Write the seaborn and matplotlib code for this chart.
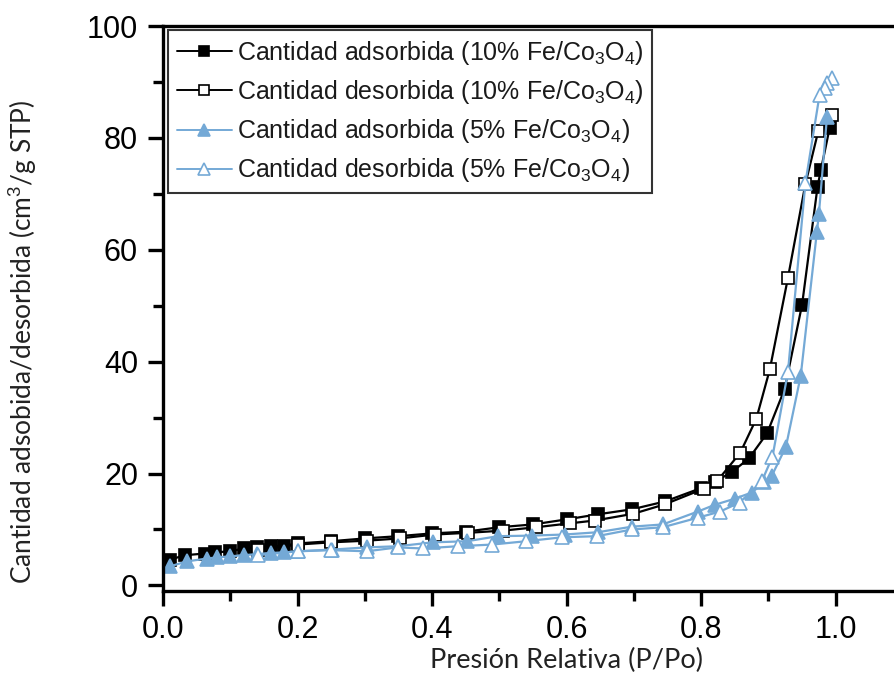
import numpy as np
import pandas as pd
import matplotlib
matplotlib.use("Agg")
import matplotlib.pyplot as plt
from matplotlib.lines import Line2D
from matplotlib.ticker import MultipleLocator
import seaborn as sns

sns.set_theme(style="white")
plt.rcParams["font.family"] = ["Liberation Sans", "DejaVu Sans"]
plt.rcParams["mathtext.fontset"] = "custom"
plt.rcParams["mathtext.rm"] = "Liberation Sans"
plt.rcParams["mathtext.it"] = "Liberation Sans:italic"
plt.rcParams["mathtext.bf"] = "Liberation Sans:bold"

# 10% Fe/Co3O4 - adsorption
ads10_x = [0.01, 0.033, 0.062, 0.077, 0.10, 0.12, 0.14, 0.16, 0.18, 0.20, 0.25, 0.30, 0.35, 0.40,
           0.45, 0.50, 0.55, 0.60, 0.646, 0.697, 0.746, 0.80, 0.82, 0.846, 0.871, 0.898, 0.924,
           0.950, 0.973, 0.978, 0.991]
ads10_y = [4.6, 5.4, 5.7, 5.9, 6.1, 6.6, 6.8, 7.0, 7.1, 7.5, 7.9, 8.4, 8.8, 9.3,
           9.6, 10.4, 10.9, 11.8, 12.7, 13.6, 15.0, 17.4, 18.5, 20.3, 22.7, 27.2, 35.1,
           50.2, 71.3, 74.3, 81.8]
# 10% Fe/Co3O4 - desorption
des10_x = [0.994, 0.974, 0.955, 0.929, 0.902, 0.882, 0.858, 0.824, 0.804, 0.746, 0.699, 0.642,
           0.605, 0.555, 0.506, 0.453, 0.404, 0.352, 0.303, 0.25, 0.20, 0.141]
des10_y = [84.1, 81.2, 71.8, 55.0, 38.6, 29.8, 23.7, 18.7, 17.3, 14.5, 12.8, 11.6,
           11.1, 10.4, 9.8, 9.4, 9.1, 8.4, 8.0, 7.7, 7.3, 6.3]
# 5% Fe/Co3O4 - adsorption
ads5_x = [0.01, 0.036, 0.065, 0.08, 0.10, 0.12, 0.14, 0.16, 0.18, 0.20, 0.251, 0.303, 0.349,
          0.401, 0.452, 0.498, 0.548, 0.597, 0.646, 0.697, 0.743, 0.795, 0.82, 0.85, 0.875,
          0.894, 0.905, 0.926, 0.948, 0.972, 0.975, 0.987]
ads5_y = [3.4, 4.3, 4.8, 5.0, 5.2, 5.4, 5.6, 5.8, 5.9, 6.1, 6.4, 6.8, 7.0,
          7.7, 7.9, 8.8, 8.9, 9.1, 9.5, 10.5, 10.9, 13.2, 14.4, 15.5, 16.6,
          18.4, 19.6, 24.8, 37.5, 63.2, 66.4, 83.8]
# 5% Fe/Co3O4 - desorption
des5_x = [0.994, 0.987, 0.984, 0.976, 0.955, 0.929, 0.906, 0.89, 0.857, 0.828, 0.795, 0.743,
          0.697, 0.645, 0.593, 0.54, 0.489, 0.438, 0.386, 0.349, 0.303, 0.25, 0.20, 0.141]
des5_y = [90.7, 89.8, 89.0, 87.7, 72.0, 38.2, 23.0, 18.6, 14.8, 13.2, 12.1, 10.4,
          10.0, 8.8, 8.6, 7.9, 7.3, 7.0, 6.6, 6.8, 6.1, 6.3, 6.1, 5.4]

labels = [
    "Cantidad adsorbida (10% Fe/Co$_3$O$_4$)",
    "Cantidad desorbida (10% Fe/Co$_3$O$_4$)",
    "Cantidad adsorbida (5% Fe/Co$_3$O$_4$)",
    "Cantidad desorbida (5% Fe/Co$_3$O$_4$)",
]

BLACK = "#000000"
BLUE = "#74a9d6"

styles = [
    dict(color=BLACK, marker="s", markersize=8, markerfacecolor=BLACK, markeredgecolor=BLACK, lw=1.6),
    dict(color=BLACK, marker="s", markersize=8, markerfacecolor="white", markeredgecolor=BLACK, lw=1.6),
    dict(color=BLUE, marker="^", markersize=9.5, markerfacecolor=BLUE, markeredgecolor=BLUE, lw=1.6),
    dict(color=BLUE, marker="^", markersize=9.5, markerfacecolor="white", markeredgecolor=BLUE, lw=1.6),
]
series = [(ads10_x, ads10_y), (des10_x, des10_y), (ads5_x, ads5_y), (des5_x, des5_y)]

fig = plt.figure(figsize=(8.94, 6.75), dpi=100)
ax = fig.add_axes([163 / 894, 84 / 675, 740 / 894, 565 / 675])

for (xs, ys), st, lab in zip(series, styles, labels):
    df = pd.DataFrame({"x": xs, "y": ys})
    sns.lineplot(data=df, x="x", y="y", ax=ax, sort=False, estimator=None,
                 color=st["color"], marker=st["marker"], markersize=st["markersize"],
                 markerfacecolor=st["markerfacecolor"], markeredgecolor=st["markeredgecolor"],
                 markeredgewidth=1.2, linewidth=st["lw"], legend=False)

ax.set_xlim(0, 1.1)
ax.set_ylim(-1, 100)
ax.set_xticks([0.0, 0.2, 0.4, 0.6, 0.8, 1.0])
ax.set_xticklabels(["0.0", "0.2", "0.4", "0.6", "0.8", "1.0"])
ax.xaxis.set_minor_locator(MultipleLocator(0.1))
ax.set_yticks([0, 20, 40, 60, 80, 100])
ax.yaxis.set_minor_locator(MultipleLocator(10))
ax.tick_params(which="major", direction="out", length=11, width=2.4, labelsize=22,
               colors="black", bottom=True, left=True)
ax.tick_params(axis="y", which="major", pad=7)
ax.tick_params(axis="x", which="major", pad=6)
ax.tick_params(which="minor", direction="out", length=7, width=2.4, bottom=True, left=True,
               color="black")
ax.tick_params(axis="x", which="both", top=False)
ax.tick_params(axis="y", which="both", right=False)

for side in ["left", "bottom", "top"]:
    ax.spines[side].set_visible(True)
    ax.spines[side].set_linewidth(2.4)
    ax.spines[side].set_color("black")
ax.spines["right"].set_visible(False)
ax.grid(False)

ax.set_xlabel("Presión Relativa (P/Po)", family=["Lato", "DejaVu Sans"], fontsize=19.5,
              color="#222222")
ax.xaxis.set_label_coords((567 - 163) / 740, (591 - 648) / 565)
ax.set_ylabel("Cantidad adsobida/desorbida (cm$^3$/g STP)", family=["Lato", "DejaVu Sans"],
              fontsize=19, color="#222222")
ax.yaxis.set_label_coords((40 - 163) / 740, (591 - 342) / 565)

handles = [Line2D([0], [0], color=st["color"], marker=st["marker"], markersize=st["markersize"] * 0.9,
                  markerfacecolor=st["markerfacecolor"], markeredgecolor=st["markeredgecolor"],
                  markeredgewidth=1.2, linewidth=1.4) for st in styles]
leg = ax.legend(handles, labels, loc="upper left", bbox_to_anchor=(168 / 894, 1 - 30 / 675),
                bbox_transform=fig.transFigure, borderaxespad=0, fontsize=18,
                frameon=True, fancybox=False, edgecolor="black", handlelength=2.2,
                handletextpad=0.2, labelspacing=0.45, borderpad=0.35)
leg.get_frame().set_linewidth(1.5)
for t in leg.get_texts():
    t.set_color("#1a1a1a")

fig.savefig("out.png", dpi=100)
